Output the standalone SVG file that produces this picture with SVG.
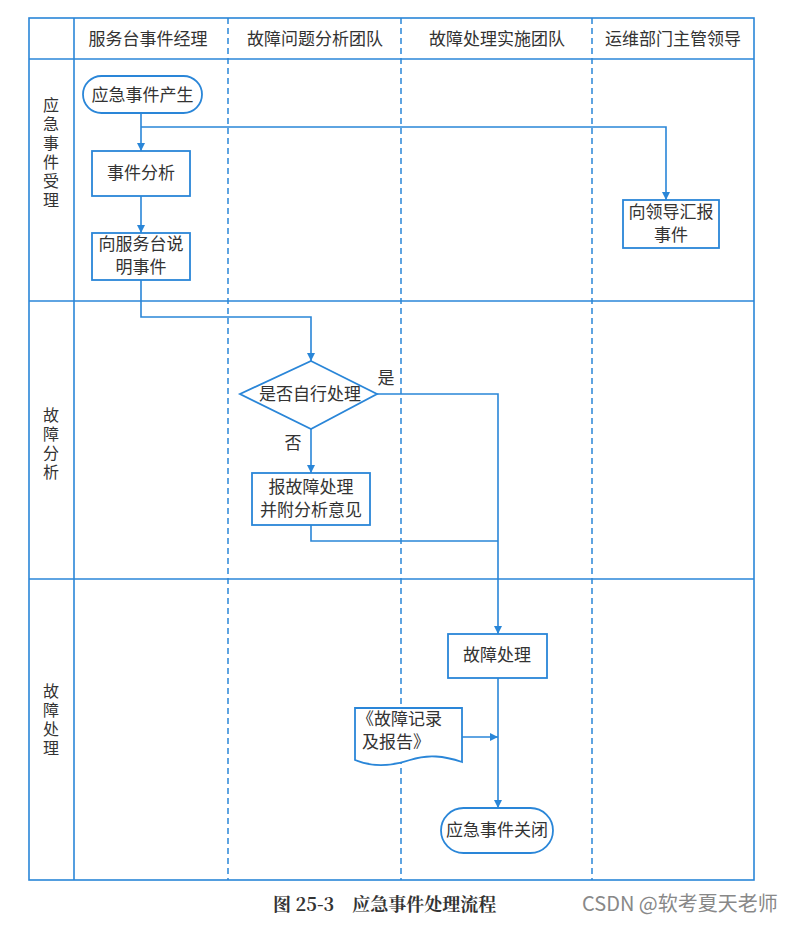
<svg xmlns="http://www.w3.org/2000/svg" width="800" height="925" viewBox="0 0 800 925">
<defs>
<marker id="arr" viewBox="0 0 10 10" refX="10" refY="5" markerWidth="8" markerHeight="8" markerUnits="userSpaceOnUse" orient="auto">
<path d="M0,0 L10,5 L0,10 z" fill="#2a86d8"/>
</marker>
<style>
.ln{stroke:#2a86d8;stroke-width:1.6;fill:none}
.dash{stroke:#2a86d8;stroke-width:1.5;fill:none;stroke-dasharray:6 4}
.box{stroke:#2a86d8;stroke-width:1.8;fill:#fff}
.c{stroke:#2a86d8;stroke-width:1.6;fill:none}
.t{font-family:"Noto Sans CJK SC","Noto Sans",sans-serif;font-size:17px;fill:#333;text-anchor:middle}
.tv{font-family:"Noto Sans CJK SC","Noto Sans",sans-serif;font-size:16px;fill:#333;writing-mode:tb;letter-spacing:3px}
.tl{font-family:"Noto Sans CJK SC","Noto Sans",sans-serif;font-size:17px;fill:#333}
</style>
</defs>
<rect width="800" height="925" fill="#fff"/>
<g id="frame">
<rect x="29" y="18" width="725" height="862" class="ln"/>
<line x1="74" y1="18" x2="74" y2="880" class="ln"/>
<line x1="29" y1="59" x2="754" y2="59" class="ln"/>
<line x1="29" y1="301" x2="754" y2="301" class="ln"/>
<line x1="29" y1="579" x2="754" y2="579" class="ln"/>
<line x1="228" y1="18" x2="228" y2="880" class="dash"/>
<line x1="401" y1="18" x2="401" y2="880" class="dash"/>
<line x1="592" y1="18" x2="592" y2="880" class="dash"/>
</g>
<g id="headers">
<text x="148" y="45" class="t" font-size="17.5">服务台事件经理</text>
<text x="315" y="45" class="t" font-size="17.5">故障问题分析团队</text>
<text x="497" y="45" class="t" font-size="17.5">故障处理实施团队</text>
<text x="673" y="45" class="t" font-size="17.5">运维部门主管领导</text>
</g>
<g id="lanes">
<text class="tv" x="51" y="97">应急事件受理</text>
<text class="tv" x="51" y="407">故障分析</text>
<text class="tv" x="51" y="683">故障处理</text>
</g>
<g id="connectors">
<path d="M141,113 V151" class="c" marker-end="url(#arr)"/>
<path d="M141,127 H666 V200" class="c" marker-end="url(#arr)"/>
<path d="M141,196 V233" class="c" marker-end="url(#arr)"/>
<path d="M141,280 V317 H311 V361" class="c" marker-end="url(#arr)"/>
<path d="M311,429 V473" class="c" marker-end="url(#arr)"/>
<path d="M377,394 H498 V634" class="c" marker-end="url(#arr)"/>
<path d="M311,525 V541 H498" class="c"/>
<path d="M498,678 V808" class="c" marker-end="url(#arr)"/>
<path d="M462,737 H498" class="c" marker-end="url(#arr)"/>
<text x="386" y="384" class="t">是</text>
<text x="293" y="449" class="t">否</text>
</g>
<g id="n_start">
<rect x="83" y="76" width="119" height="37" rx="18.5" class="box"/>
<text x="142.5" y="100.5" class="t">应急事件产生</text>
</g>
<g id="n_analyze">
<rect x="92" y="151" width="98" height="45" class="box"/>
<text x="141" y="179" class="t">事件分析</text>
</g>
<g id="n_explain">
<rect x="92" y="233" width="98" height="47" class="box"/>
<text class="t"><tspan x="141" y="250">向服务台说</tspan><tspan x="141" y="273">明事件</tspan></text>
</g>
<g id="n_report_leader">
<rect x="623" y="200" width="96" height="48" class="box"/>
<text class="t"><tspan x="671" y="218">向领导汇报</tspan><tspan x="671" y="241">事件</tspan></text>
</g>
<g id="n_decision">
<polygon points="311,361 377,394 311,429 240,394" class="box"/>
<text x="310" y="400" class="t">是否自行处理</text>
</g>
<g id="n_submit">
<rect x="252" y="473" width="118" height="52" class="box"/>
<text class="t"><tspan x="311" y="493">报故障处理</tspan><tspan x="311" y="516">并附分析意见</tspan></text>
</g>
<g id="n_handle">
<rect x="448" y="634" width="99" height="44" class="box"/>
<text x="497" y="661" class="t">故障处理</text>
</g>
<g id="n_doc">
<path d="M355,708 H462 V762 C444,756 428,754 410,760 C392,766 374,768 355,760 Z" class="box"/>
<text class="tl"><tspan x="357" y="725">《故障记录</tspan><tspan x="362" y="748">及报告》</tspan></text>
</g>
<g id="n_end">
<rect x="441" y="808" width="112" height="45" rx="22.5" class="box"/>
<text x="497" y="836" class="t">应急事件关闭</text>
</g>
<g id="caption">
<text x="273" y="911" font-family="'Noto Serif CJK SC','Noto Sans CJK SC',serif" font-size="18" font-weight="bold" fill="#333">图 25-3<tspan dx="18">应急事件处理流程</tspan></text>
<text x="582" y="911" font-family="'Noto Sans CJK SC','Noto Sans',sans-serif" font-size="20" fill="#888">CSDN @软考夏天老师</text>
</g>
</svg>
